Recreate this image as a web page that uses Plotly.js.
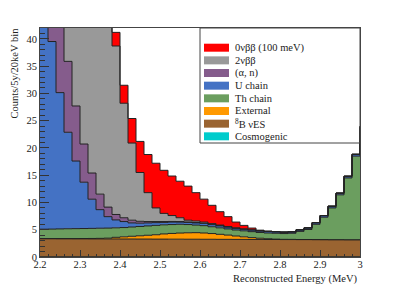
<!DOCTYPE html>
<html><head><meta charset="utf-8">
<script src="https://cdn.plot.ly/plotly-3.0.1.min.js"></script>
<style>html,body{margin:0;padding:0;background:#fff}#chart{width:399px;height:286px}</style>
</head><body><div id="chart"></div>
<script>
// Bin low edges (MeV), 20 keV bins
const energyLow = [2.20,2.22,2.24,2.26,2.28,2.30,2.32,2.34,2.36,2.38,2.40,2.42,2.44,2.46,2.48,2.50,2.52,2.54,2.56,2.58,2.60,2.62,2.64,2.66,2.68,2.70,2.72,2.74,2.76,2.78,2.80,2.82,2.84,2.86,2.88,2.90,2.92,2.94,2.96,2.98,3.00];
const binWidth = 0.02;

// Counts per bin for each component (stacked bottom -> top)
const cosmogenic = [0.05,0.05,0.05,0.05,0.05,0.05,0.05,0.05,0.05,0.05,0.05,0.05,0.05,0.05,0.05,0.05,0.05,0.05,0.05,0.05,0.05,0.05,0.05,0.05,0.05,0.05,0.05,0.05,0.05,0.05,0.05,0.05,0.05,0.05,0.05,0.05,0.05,0.05,0.05,0.05,0.05];
const b8ES = [3.30,3.30,3.29,3.29,3.28,3.28,3.27,3.27,3.26,3.26,3.25,3.25,3.24,3.24,3.23,3.23,3.22,3.22,3.21,3.21,3.20,3.20,3.19,3.19,3.18,3.18,3.17,3.17,3.16,3.16,3.15,3.15,3.14,3.14,3.13,3.13,3.12,3.12,3.11,3.11,3.10];
const external = [0.03,0.03,0.04,0.04,0.05,0.06,0.08,0.10,0.15,0.30,0.40,0.50,0.60,0.70,0.80,0.95,1.05,1.12,1.18,1.20,1.15,1.05,0.92,0.78,0.62,0.47,0.33,0.22,0.14,0.07,0.04,0.03,0.02,0.02,0.02,0.01,0.01,0.01,0.01,0.01,0.01];
const thChain = [1.72,1.74,1.77,1.80,1.82,1.83,1.85,1.86,1.84,1.74,1.70,1.70,1.71,1.71,1.72,1.67,1.63,1.61,1.51,1.39,1.35,1.25,1.19,1.13,1.10,1.10,1.10,1.06,1.05,1.07,1.06,1.12,1.49,1.84,2.80,4.11,5.82,8.22,11.33,15.33,20.44];
const uChain = [43.0,34.4,25.0,17.7,12.4,8.5,5.35,3.4,2.1,1.45,1.1,0.75,0.6,0.55,0.5,0.45,0.45,0.4,0.4,0.4,0.4,0.38,0.36,0.34,0.32,0.3,0.3,0.28,0.27,0.26,0.25,0.25,0.27,0.28,0.28,0.28,0.3,0.3,0.3,0.32,0.33];
const alphaN = [8.0,10.0,15.0,13.0,10.1,7.0,4.8,2.85,1.75,1.0,0.7,0.5,0.35,0.25,0.2,0.15,0.12,0.1,0.08,0.07,0.06,0.05,0.05,0.04,0.04,0.03,0.03,0.02,0.02,0.02,0.01,0.01,0.01,0.01,0.01,0.01,0.01,0.01,0.01,0.01,0.01];
const twoNuBB = [200,175,150,125,100,80,62,48,40,30.9,21.0,14.15,8.95,5.3,2.5,1.5,1.08,0.7,0.32,0.28,0.2,0.15,0.1,0.07,0.05,0.04,0.03,0.02,0.02,0.01,0.01,0.01,0.01,0.01,0.01,0.01,0.01,0.01,0.01,0.01,0.01];
const zeroNuBB = [0.05,0.08,0.12,0.2,0.35,0.55,0.85,1.25,1.8,2.5,3.3,4.5,5.7,7.0,8.2,7.9,7.25,6.7,6.25,5.2,4.2,3.35,2.45,1.8,1.05,0.63,0.3,0.1,0.04,0.02,0.01,0.01,0.01,0.01,0.01,0.01,0.01,0.01,0.01,0.01,0.01];

const seriesNames = ["Cosmogenic", "<sup>8</sup>B νES", "External", "Th chain", "U chain", "(α, n)", "2νββ", "0νββ (100 meV)"];
const seriesValues = [cosmogenic, b8ES, external, thChain, uChain, alphaN, twoNuBB, zeroNuBB];
const seriesColors = ["#00cccc", "#9a6431", "#ff9900", "#6b9e5f", "#4472c4", "#855c8c", "#999999", "#ff0000"];

const xEdges = energyLow.concat([energyLow[energyLow.length - 1] + binWidth]);
const traces = seriesValues.map((v, i) => ({
  type: 'scatter', mode: 'lines',
  x: xEdges, y: v.concat([v[v.length - 1]]),
  stackgroup: 'one',
  line: {shape: 'hv', color: '#222', width: 1},
  fillcolor: seriesColors[i],
  name: seriesNames[i], showlegend: false, hoverinfo: 'skip'
}));

// geometry helpers (plot area: 320 x 229 px)
const L = 40, T = 28, W = 320, H = 229;
const px2x = p => (p - L) / W;
const py2y = p => (T + H - p) / H;

const font = 'Liberation Serif, Times New Roman, serif';
const shapes = [{type: 'rect', xref: 'paper', yref: 'paper', x0: px2x(200), x1: 1, y0: py2y(143), y1: 1, line: {color: '#444', width: 1}}];
const annotations = [];
const order = seriesNames.map((_, i) => i).reverse();
order.forEach((si, row) => {
  const cy = 47.7 + 12.66 * row;
  shapes.push({type: 'rect', xref: 'paper', yref: 'paper', x0: px2x(204), x1: px2x(229), y0: py2y(cy + 4), y1: py2y(cy - 4), fillcolor: seriesColors[si], line: {width: 0}});
  annotations.push({xref: 'paper', yref: 'paper', x: px2x(233), y: py2y(cy), xanchor: 'left', yanchor: 'middle', showarrow: false, text: seriesNames[si], font: {family: font, size: 10.5, color: '#222'}});
});
annotations.push({xref: 'paper', yref: 'paper', x: 1, y: py2y(279), xanchor: 'right', yanchor: 'middle', showarrow: false, text: 'Reconstructed Energy (MeV)', font: {family: font, size: 10.5, color: '#222'}});
annotations.push({xref: 'paper', yref: 'paper', x: px2x(13.5), y: py2y(73), xanchor: 'center', yanchor: 'middle', textangle: -90, showarrow: false, text: 'Counts/5y/20keV bin', font: {family: font, size: 10.5, color: '#222'}});

const layout = {
  width: 399, height: 286,
  margin: {l: L, r: 399 - L - W, t: T, b: 286 - T - H, pad: 0},
  paper_bgcolor: '#fff', plot_bgcolor: '#fff',
  showlegend: false,
  font: {family: font, size: 10.5, color: '#222'},
  xaxis: {range: [2.2, 3.0], tick0: 2.2, dtick: 0.1, ticks: 'inside', ticklen: 7, tickcolor: '#333',
    ticklabelstandoff: -3,
    minor: {dtick: 0.02, ticks: 'inside', ticklen: 3.5, tickcolor: '#333'},
    showgrid: false, zeroline: false, showline: true, mirror: true, linecolor: '#444', linewidth: 1,
    tickfont: {family: font, size: 10.5, color: '#222'}},
  yaxis: {range: [0, 42], tick0: 0, dtick: 5, ticks: 'inside', ticklen: 9, tickcolor: '#333',
    minor: {dtick: 1, ticks: 'inside', ticklen: 4.5, tickcolor: '#333'},
    showgrid: false, zeroline: false, showline: true, mirror: true, linecolor: '#444', linewidth: 1,
    tickfont: {family: font, size: 10.5, color: '#222'}},
  shapes: shapes,
  annotations: annotations
};
Plotly.newPlot('chart', traces, layout, {staticPlot: true, displayModeBar: false});
</script>
</body></html>
